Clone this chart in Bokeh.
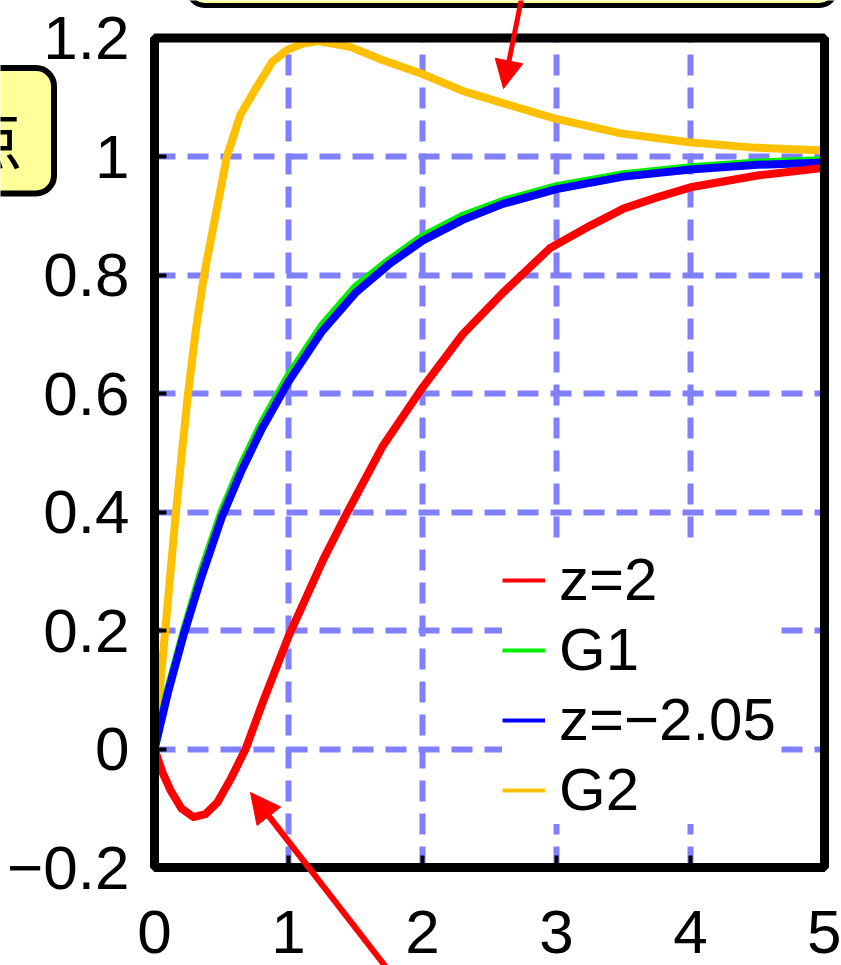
from bokeh.plotting import figure
from bokeh.models import (Legend, LegendItem, BoxAnnotation, Label, Arrow,
                          NormalHead, FixedTicker, Grid)
from bokeh.embed import file_html
from bokeh.resources import INLINE

# ---------------- data ----------------
t_red = [0, 0.06, 0.12, 0.2, 0.29, 0.38, 0.47, 0.57, 0.68, 0.81, 1.0, 1.26,
         1.44, 1.7, 2.0, 2.3, 2.6, 2.95, 3.25, 3.5, 3.75, 4.0, 4.5, 5.0]
y_red = [0, -0.04, -0.07, -0.10, -0.115, -0.11, -0.09, -0.05, 0.0, 0.08, 0.19,
         0.32, 0.40, 0.51, 0.61, 0.70, 0.77, 0.845, 0.883, 0.912, 0.931, 0.948,
         0.968, 0.981]

t_g1 = [0, 0.1, 0.22, 0.35, 0.5, 0.65, 0.8, 1.0, 1.25, 1.5, 1.75, 2.0, 2.3,
        2.6, 3.0, 3.5, 4.0, 4.5, 5.0]
y_g1 = [0, 0.10, 0.20, 0.30, 0.40, 0.48, 0.55, 0.63, 0.715, 0.78, 0.825, 0.865,
        0.90, 0.925, 0.95, 0.97, 0.982, 0.99, 0.994]

t_blue = [0, 0.1, 0.22, 0.35, 0.5, 0.65, 0.8, 1.0, 1.25, 1.5, 1.75, 2.0, 2.3,
          2.6, 3.0, 3.5, 4.0, 4.5, 5.0]
y_blue = [0, 0.095, 0.195, 0.29, 0.39, 0.47, 0.54, 0.62, 0.705, 0.77, 0.818,
          0.858, 0.893, 0.92, 0.945, 0.966, 0.978, 0.986, 0.99]

t_g2 = [0, 0.04, 0.08, 0.12, 0.16, 0.2, 0.25, 0.31, 0.37, 0.455, 0.54, 0.64,
        0.77, 0.88, 0.99, 1.1, 1.22, 1.46, 1.71, 1.99, 2.31, 2.6, 2.99, 3.48,
        3.99, 4.47, 5.0]
y_g2 = [0, 0.10, 0.20, 0.30, 0.40, 0.49, 0.60, 0.71, 0.80, 0.90, 1.00, 1.07,
        1.12, 1.16, 1.18, 1.19, 1.195, 1.185, 1.162, 1.14, 1.11, 1.09, 1.064,
        1.039, 1.024, 1.015, 1.010]

series_labels = ["z=2", "G1", "z=\u22122.05", "G2"]
x_ticks = [0, 1, 2, 3, 4, 5]
y_ticks = [-0.2, 0, 0.2, 0.4, 0.6, 0.8, 1.0, 1.2]
y_tick_labels = ["\u22120.2", "0", "0.2", "0.4", "0.6", "0.8", "1", "1.2"]

# ---------------- layout geometry (pixels of the 841x965 page) ----------------
W, H = 841, 965
X0_PX, PX_PER_X = 154.0, 134.0     # where t=0 sits, pixels per unit t
Y0_PX, PX_PER_Y = 748.5, 592.5     # where y=0 sits, pixels per unit y


def fx(px):
    return (px - X0_PX) / PX_PER_X


def fy(py):
    return (Y0_PX - py) / PX_PER_Y


XMIN, XMAX = x_ticks[0], x_ticks[-1]
YMIN, YMAX = y_ticks[0], y_ticks[-1]

FONT = "Liberation Sans"
p = figure(width=W, height=H, x_range=(fx(0), fx(W)), y_range=(fy(H), fy(0)),
           output_backend="svg", toolbar_location=None, min_border=0)
p.background_fill_color = "white"
p.border_fill_color = "white"
p.outline_line_color = None

# axes drawn at the edges of the plotting box
p.yaxis.fixed_location = XMIN
p.xaxis.fixed_location = YMIN
p.xaxis.bounds = (XMIN, XMAX)
p.yaxis.bounds = (YMIN, YMAX)
for ax in (p.xaxis[0], p.yaxis[0]):
    ax.axis_line_color = None
    ax.major_tick_in = 12
    ax.major_tick_out = 0
    ax.major_tick_line_width = 4
    ax.major_tick_line_color = "black"
    ax.minor_tick_line_color = None
    ax.major_label_text_font = FONT
    ax.major_label_text_font_size = "62px"
    ax.major_label_text_color = "black"
p.xaxis.ticker = FixedTicker(ticks=x_ticks)
p.yaxis.ticker = FixedTicker(ticks=y_ticks)
p.yaxis.major_label_overrides = {t: s for t, s in zip(y_ticks, y_tick_labels)}
p.xaxis.major_label_standoff = 43
p.yaxis.major_label_standoff = 25

GRID_COLOR, GRID_W, GRID_DASH = "#8080FF", 6, "21 12"
if "cross_bounds" in Grid.properties():
    for g in (p.xgrid[0], p.ygrid[0]):
        g.grid_line_color = GRID_COLOR
        g.grid_line_width = GRID_W
        g.grid_line_dash = GRID_DASH
    p.xgrid.ticker = FixedTicker(ticks=x_ticks)
    p.ygrid.ticker = FixedTicker(ticks=y_ticks)
    p.xgrid.cross_bounds = (YMIN, YMAX)
    p.ygrid.cross_bounds = (XMIN, XMAX)
else:
    p.xgrid.visible = False
    p.ygrid.visible = False
    p.segment(x0=x_ticks, x1=x_ticks, y0=[YMIN] * len(x_ticks),
              y1=[YMAX] * len(x_ticks), line_color=GRID_COLOR,
              line_width=GRID_W, line_dash=GRID_DASH)
    p.segment(x0=[XMIN] * len(y_ticks), x1=[XMAX] * len(y_ticks), y0=y_ticks,
              y1=y_ticks, line_color=GRID_COLOR, line_width=GRID_W,
              line_dash=GRID_DASH)

colors = ["#FF0000", "#00EE00", "#0000FF", "#FFC000"]
series = [(t_red, y_red), (t_g1, y_g1), (t_blue, y_blue), (t_g2, y_g2)]

# thin copies (hidden under the thick curves) serve as legend samples
thin = [p.line(t, y, line_color=c, line_width=4) for (t, y), c in zip(series, colors)]
for idx in (3, 1, 2, 0):
    t, y = series[idx]
    p.line(t, y, line_color=colors[idx], line_width=8, line_join="round")

# black frame of the plotting box
p.add_layout(BoxAnnotation(left=XMIN, right=XMAX, bottom=YMIN, top=YMAX,
                           fill_alpha=0, line_color="black", line_alpha=1,
                           line_width=9))

items = [LegendItem(label=lab, renderers=[r]) for lab, r in zip(series_labels, thin)]
legend = Legend(items=items, location=(502, H - 824), margin=0, padding=8,
                spacing=1, glyph_width=43, glyph_height=40, label_height=40,
                label_standoff=14, border_line_color=None,
                background_fill_color="white", background_fill_alpha=1,
                label_text_font=FONT, label_text_font_size="60px",
                label_text_color="black")
p.add_layout(legend)

# ---------------- callouts & arrows (partly off the page) ----------------
p.add_layout(BoxAnnotation(left=fx(188), right=fx(835), top=fy(-60), bottom=fy(5),
                           fill_color="#FFFF99", fill_alpha=1, line_alpha=1,
                           line_color="black", line_width=5, border_radius=16))
p.add_layout(BoxAnnotation(left=fx(-100), right=fx(53.5), top=fy(67.5),
                           bottom=fy(193), fill_color="#FFFF99", fill_alpha=1,
                           line_alpha=1, line_color="black", line_width=6,
                           border_radius=18))
p.add_layout(Label(x=fx(22), y=fy(135), text="点", text_font="Noto Sans CJK JP",
                   text_font_size="64px", text_align="right",
                   text_baseline="middle", text_color="black"))
p.add_layout(Arrow(end=NormalHead(size=28, fill_color="red", line_color="red"),
                   x_start=fx(521), y_start=fy(-2), x_end=fx(503), y_end=fy(88),
                   line_color="red", line_width=5))
p.add_layout(Arrow(end=NormalHead(size=30, fill_color="red", line_color="red"),
                   x_start=fx(392), y_start=fy(975), x_end=fx(250), y_end=fy(792),
                   line_color="red", line_width=6))

open("out.html", "w").write(file_html(p, INLINE))
